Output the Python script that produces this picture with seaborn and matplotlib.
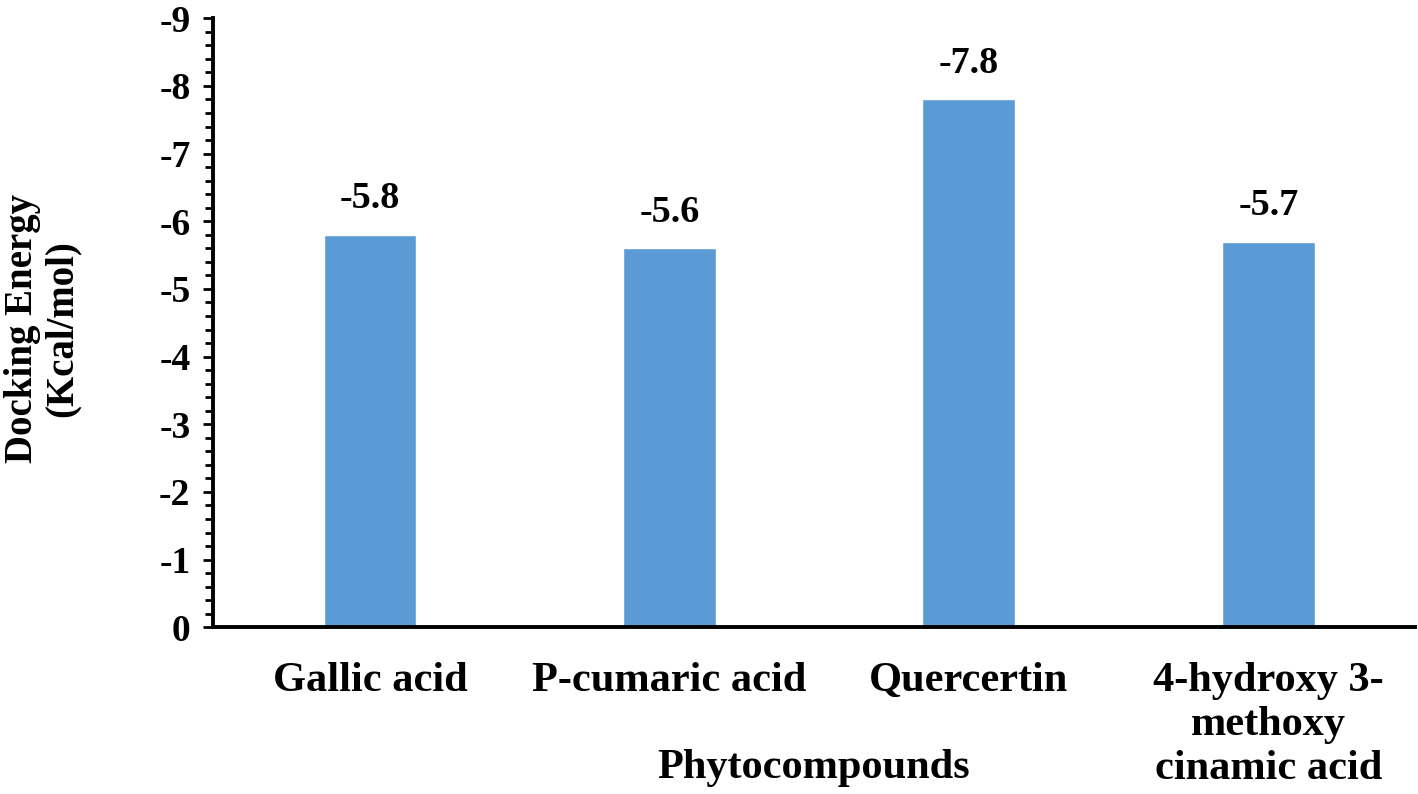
import pandas as pd
import matplotlib
matplotlib.use('Agg')
import matplotlib.pyplot as plt
import seaborn as sns
from matplotlib.ticker import MultipleLocator

compounds = ['Gallic acid', 'P-cumaric acid', 'Quercertin', '4-hydroxy 3-\nmethoxy\ncinamic acid']
energy = [-5.8, -5.6, -7.8, -5.7]
y_ticks = [0, -1, -2, -3, -4, -5, -6, -7, -8, -9]

df = pd.DataFrame({'compound': compounds, 'energy': energy})

sns.set_style('white')
plt.rcParams['font.family'] = ['Liberation Serif', 'DejaVu Serif']
plt.rcParams['font.weight'] = 'bold'
plt.rcParams['axes.unicode_minus'] = False
plt.rcParams['text.color'] = 'black'
plt.rcParams['axes.labelcolor'] = 'black'
plt.rcParams['xtick.color'] = 'black'
plt.rcParams['ytick.color'] = 'black'

fig, ax = plt.subplots(figsize=(14.18, 7.94), dpi=100)
fig.subplots_adjust(left=0.150, right=0.998, top=0.977, bottom=0.210)

sns.barplot(data=df, x='compound', y='energy', color='#5B9BD5',
            saturation=1, width=0.31, ax=ax)

# inverted axis: 0 at bottom, -9 at top
ax.set_ylim(0, -9)
ax.set_xlim(-0.525, 3.49)
ax.set_yticks(y_ticks)
ax.set_yticklabels([str(t) for t in y_ticks])
ax.yaxis.set_minor_locator(MultipleLocator(0.2))

for i, v in enumerate(energy):
    ax.annotate(f'{v}', xy=(i, v), xytext=(0, 26), textcoords='offset points',
                ha='center', va='center', fontsize=27.5, fontweight='bold')

sns.despine(ax=ax)
ax.spines['left'].set_linewidth(2.8)
ax.spines['bottom'].set_linewidth(2.8)
ax.spines['left'].set_color('black')
ax.spines['bottom'].set_color('black')

ax.tick_params(axis='y', which='both', direction='out', left=True, width=2,
               labelsize=27, pad=9)
ax.tick_params(axis='y', which='major', length=7)
ax.tick_params(axis='y', which='minor', length=6)
ax.tick_params(axis='x', length=0, labelsize=30.5, pad=25)
for lab in ax.get_xticklabels():
    lab.set_linespacing(1.2)
    lab.set_fontweight('bold')
for lab in ax.get_yticklabels():
    lab.set_fontweight('bold')

ax.set_xlabel('Phytocompounds', fontsize=30.5, fontweight='bold')
ax.xaxis.set_label_coords(0.5, -0.2)
ax.set_ylabel('Docking Energy\n(Kcal/mol)', fontsize=28, fontweight='bold',
              linespacing=1.1)
ax.yaxis.set_label_coords(-0.142, 0.49)
ax.yaxis.label.set_verticalalignment('center')

plt.savefig('out.png', dpi=100)
